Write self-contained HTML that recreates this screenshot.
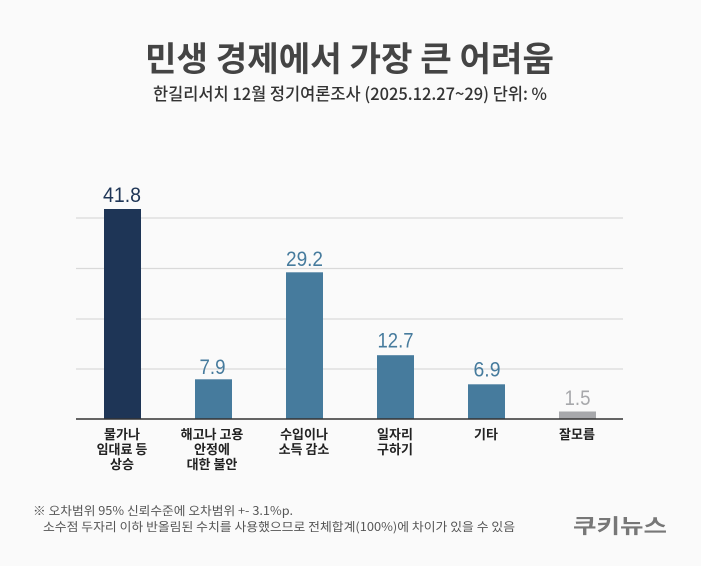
<!DOCTYPE html>
<html><head><meta charset="utf-8"><style>
html,body{margin:0;padding:0;background:#fafafa;}
svg{display:block;}
text{font-family:"Liberation Sans","Noto Sans CJK KR",sans-serif;}
.k{font-family:"Noto Sans CJK KR","Liberation Sans",sans-serif;}
</style></head><body>
<svg width="701" height="566" viewBox="0 0 701 566" xmlns="http://www.w3.org/2000/svg">
<rect width="701" height="566" fill="#fafafa"/>
<text x="145" y="71" class="k" font-size="34" font-weight="700" fill="#444" textLength="409" lengthAdjust="spacingAndGlyphs">민생 경제에서 가장 큰 어려움</text>
<text x="153" y="100" class="k" font-size="17" font-weight="500" fill="#333" textLength="394" lengthAdjust="spacingAndGlyphs">한길리서치 12월 정기여론조사 (2025.12.27~29) 단위: %</text>
<g stroke="#d9d9d9" stroke-width="1.2">
<line x1="76" y1="218" x2="623" y2="218"/>
<line x1="76" y1="268.5" x2="623" y2="268.5"/>
<line x1="76" y1="319" x2="623" y2="319"/>
<line x1="76" y1="369" x2="623" y2="369"/>
</g>
<rect x="104" y="209" width="37" height="210" fill="#1e3556"/>
<rect x="195" y="379.3" width="37" height="39.7" fill="#467b9d"/>
<rect x="286" y="272.3" width="37" height="146.7" fill="#467b9d"/>
<rect x="377" y="355.2" width="37" height="63.8" fill="#467b9d"/>
<rect x="468" y="384.3" width="37" height="34.7" fill="#467b9d"/>
<rect x="559" y="411.5" width="37" height="7.5" fill="#a7a8ab"/>
<line x1="76" y1="419" x2="623" y2="419" stroke="#333" stroke-width="1.5"/>
<g font-size="21" text-anchor="middle">
<text x="122" y="202" fill="#1e3556" textLength="38" lengthAdjust="spacingAndGlyphs">41.8</text>
<text x="212.5" y="374" fill="#467b9d" textLength="26" lengthAdjust="spacingAndGlyphs">7.9</text>
<text x="304.5" y="266" fill="#467b9d" textLength="37" lengthAdjust="spacingAndGlyphs">29.2</text>
<text x="395.5" y="347.5" fill="#467b9d" textLength="36" lengthAdjust="spacingAndGlyphs">12.7</text>
<text x="487" y="376.5" fill="#467b9d" textLength="27" lengthAdjust="spacingAndGlyphs">6.9</text>
<text x="577.5" y="405" fill="#a7a8ab" textLength="26" lengthAdjust="spacingAndGlyphs">1.5</text>
</g>
<g class="k" font-size="13" font-weight="700" fill="#222" text-anchor="middle">
<text class="k" x="122" y="439">물가나</text>
<text class="k" x="122" y="454">임대료 등</text>
<text class="k" x="122" y="469">상승</text>
<text class="k" x="212" y="439">해고나 고용</text>
<text class="k" x="212" y="454">안정에</text>
<text class="k" x="212" y="469">대한 불안</text>
<text class="k" x="304" y="439">수입이나</text>
<text class="k" x="304" y="454">소득 감소</text>
<text class="k" x="395" y="439">일자리</text>
<text class="k" x="395" y="454">구하기</text>
<text class="k" x="486" y="439">기타</text>
<text class="k" x="577" y="439">잘모름</text>
</g>
<text x="33" y="515" class="k" font-size="12" fill="#555" textLength="260" lengthAdjust="spacingAndGlyphs">※ 오차범위 95% 신뢰수준에 오차범위 +- 3.1%p.</text>
<text x="43" y="531" class="k" font-size="12" fill="#555" textLength="472" lengthAdjust="spacingAndGlyphs">소수점 두자리 이하 반올림된 수치를 사용했으므로 전체합계(100%)에 차이가 있을 수 있음</text>
<text x="573" y="533" class="k" font-size="20" font-weight="700" fill="#777" textLength="94" lengthAdjust="spacingAndGlyphs">쿠키뉴스</text>
</svg>
</body></html>
